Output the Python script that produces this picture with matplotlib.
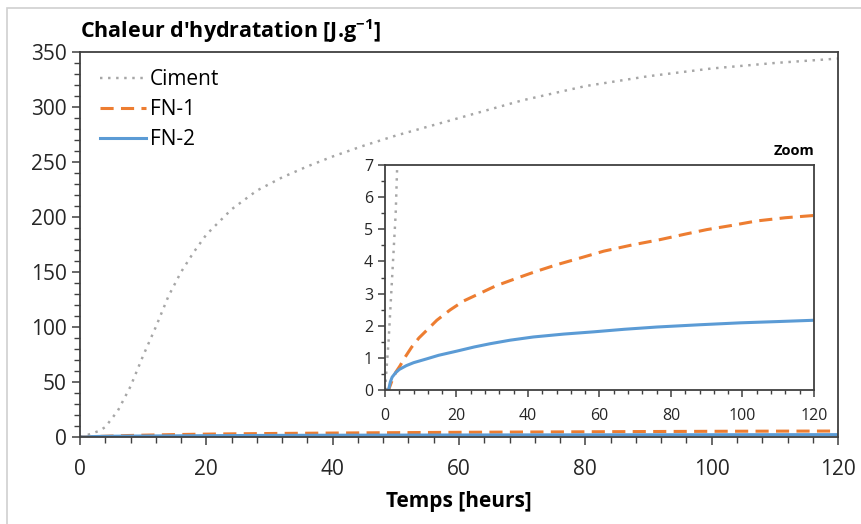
import matplotlib
matplotlib.use("Agg")
import matplotlib.pyplot as plt
from matplotlib.patches import Rectangle
from matplotlib.ticker import MultipleLocator

plt.rcParams['font.family'] = ['Open Sans', 'DejaVu Sans']
plt.rcParams['mathtext.fontset'] = 'custom'
plt.rcParams['mathtext.rm'] = 'Open Sans'
plt.rcParams['mathtext.bf'] = 'Open Sans:bold'
plt.rcParams['mathtext.default'] = 'regular'

# données
t_ciment = [0, 1, 2, 3, 4, 6, 8, 10, 12, 14, 16, 18, 20, 24, 28, 32, 36, 40,
            45, 50, 55, 60, 70, 80, 90, 100, 110, 120]
q_ciment = [0, 1.5, 3.5, 5.5, 9, 24, 46, 74, 100, 128, 150, 168, 184, 207, 224, 236,
            246, 255, 265, 274, 282, 290, 306, 319, 328, 335, 340, 344]

t_fn1 = [0, 1, 2, 3, 4.2, 5.5, 7.5, 9.5, 11.7, 14.5, 18.2, 22, 26.6, 31, 36.9,
         42, 48.1, 55, 61.2, 69, 77, 84, 90, 97, 104, 112, 120]
q_fn1 = [0, 0, 0.3, 0.55, 0.75, 1.0, 1.34, 1.62, 1.86, 2.17, 2.49, 2.77, 3.01,
         3.24, 3.48, 3.68, 3.90, 4.12, 4.32, 4.51, 4.68, 4.85, 4.99, 5.12, 5.26,
         5.36, 5.43]

t_fn2 = [0, 1, 1.5, 2, 3, 4, 6, 8, 11.7, 15, 20.1, 25, 29.4, 35, 41.5, 50, 58.4,
         67, 76.1, 88, 99.4, 110, 120]
q_fn2 = [0, 0, 0.25, 0.40, 0.54, 0.64, 0.76, 0.85, 0.97, 1.08, 1.21, 1.34, 1.44,
         1.55, 1.65, 1.74, 1.81, 1.89, 1.96, 2.03, 2.09, 2.13, 2.17]

c_gris = '#A6A6A6'
c_orange = '#ED7D31'
c_bleu = '#5B9BD5'
c_axe = '#404040'

fig = plt.figure(figsize=(8.62, 5.24), dpi=100)
fig.patches.append(Rectangle((0.008, -0.01), 1.1, 0.995, transform=fig.transFigure,
                             fill=False, edgecolor='#D0D0D0', linewidth=1.2))

ax = fig.add_axes([0.0928, 0.166, 0.8794, 0.7348])


def tracer(a, lw):
    a.plot(t_ciment, q_ciment, color=c_gris, linestyle=(0, (1, 2.3)), lw=lw * 0.8,
           label='Ciment')
    a.plot(t_fn1, q_fn1, color=c_orange, linestyle=(0, (4.3, 2.4)), lw=lw, label='FN-1')
    a.plot(t_fn2, q_fn2, color=c_bleu, lw=lw, label='FN-2')


def style(a, fs, maj_len, min_len):
    for s in a.spines.values():
        s.set_color(c_axe)
        s.set_linewidth(1.3)
    a.tick_params(which='major', direction='out', length=maj_len, width=1.1,
                  color=c_axe, labelsize=fs, labelcolor='#262626')
    a.tick_params(which='minor', direction='out', length=min_len, width=1.0,
                  color=c_axe)


tracer(ax, 2.2)
ax.set_xlim(0, 120)
ax.set_ylim(0, 350)
ax.xaxis.set_major_locator(MultipleLocator(20))
ax.xaxis.set_minor_locator(MultipleLocator(4))
ax.yaxis.set_major_locator(MultipleLocator(50))
ax.yaxis.set_minor_locator(MultipleLocator(10))
style(ax, 15, 6, 4)
ax.tick_params(axis='x', pad=10)
ax.set_xlabel('Temps [heurs]', fontsize=15, fontweight='bold', labelpad=8)
fig.text(0.0928, 0.94, "Chaleur d'hydratation [J.g$^{-1}$]", fontsize=15.5,
         fontweight='bold', ha='left', va='center')
ax.legend(loc='upper left', frameon=False, fontsize=15, handlelength=2.2,
          handletextpad=0.2, labelspacing=0.42, borderaxespad=0.2,
          bbox_to_anchor=(0.01, 0.987))

# encart zoom
axz = fig.add_axes([0.4466, 0.2557, 0.4977, 0.4294])
tracer(axz, 2.2)
axz.set_xlim(0, 120)
axz.set_ylim(0, 7)
axz.xaxis.set_major_locator(MultipleLocator(20))
axz.xaxis.set_minor_locator(MultipleLocator(4))
axz.yaxis.set_major_locator(MultipleLocator(1))
axz.yaxis.set_minor_locator(MultipleLocator(0.5))
style(axz, 11.5, 5, 3)
axz.tick_params(axis='x', pad=8)
axz.text(1.0, 1.03, 'Zoom', transform=axz.transAxes, ha='right', va='bottom',
         fontsize=10.5, fontweight='bold')

fig.savefig('out.png', dpi=100)
